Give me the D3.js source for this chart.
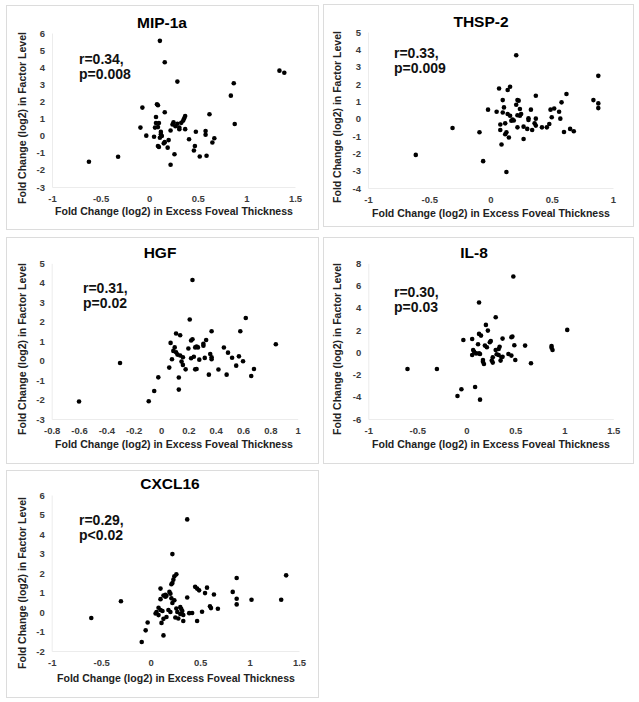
<!DOCTYPE html>
<html><head><meta charset="utf-8">
<script src="https://cdn.jsdelivr.net/npm/d3@7"></script>
<style>html,body{margin:0;padding:0;background:#fff}svg{display:block}</style>
</head><body>
<svg id="chart" width="639" height="702"></svg>
<script>
const panelTitles = ["MIP-1a", "THSP-2", "HGF", "IL-8", "CXCL16"];
const rValues = ["r=0.34,", "r=0.33,", "r=0.31,", "r=0.30,", "r=0.29,"];
const pValues = ["p=0.008", "p=0.009", "p=0.02", "p=0.03", "p<0.02"];
const xTitle = "Fold Change (log2) in Excess Foveal Thickness";
const yTitle = "Fold Change (log2) in Factor Level";

const xTicks1 = [-1, -0.5, 0, 0.5, 1, 1.5];
const yTicks1 = [-3, -2, -1, 0, 1, 2, 3, 4, 5, 6];
const xTicks2 = [-1, -0.5, 0, 0.5, 1];
const yTicks2 = [-4, -3, -2, -1, 0, 1, 2, 3, 4, 5];
const xTicks3 = [-0.8, -0.6, -0.4, -0.2, 0, 0.2, 0.4, 0.6, 0.8, 1];
const yTicks3 = [-3, -2, -1, 0, 1, 2, 3, 4, 5];
const xTicks4 = [-1, -0.5, 0, 0.5, 1, 1.5];
const yTicks4 = [-6, -4, -2, 0, 2, 4, 6, 8];
const xTicks5 = [-1, -0.5, 0, 0.5, 1, 1.5];
const yTicks5 = [-2, -1, 0, 1, 2, 3, 4, 5, 6];

const mip1a = [[0.11,5.54],[0.16,4.29],[0.29,3.16],[0.87,3.06],[0.84,2.34],[1.34,3.80],[1.39,3.68],[0.88,0.68],[0.62,1.25],[-0.07,1.64],[0.08,1.84],[0.09,1.78],[0.16,1.37],[0.07,1.09],[0.07,0.74],[0.10,0.74],[-0.09,0.47],[0.06,0.47],[0.09,0.50],[-0.03,0],[0.05,-0.06],[0.12,0.22],[0.12,0.08],[0.13,-0.02],[0.11,-0.12],[0.09,-0.60],[0.10,-0.66],[0.15,-0.45],[0.16,-0.38],[0.20,-0.26],[0.19,-0.70],[0.26,-1.09],[0.22,-1.70],[0.22,0.30],[0.24,0.65],[0.25,0.78],[0.27,0.55],[0.29,0.70],[0.31,0.48],[0.33,0.75],[0.35,0.88],[0.36,1.02],[0.37,1.15],[0.31,0.38],[0.37,0.38],[0.41,-0.21],[0.48,0.23],[0.58,0.27],[0.58,0.05],[0.67,-0.15],[0.65,-0.40],[0.47,-0.60],[0.46,-0.87],[0.52,-1.22],[0.59,-1.17],[-0.62,-1.52],[-0.32,-1.23]];
const thsp2 = [[0.21,3.66],[0.88,2.47],[0.84,1.07],[0.88,0.88],[0.88,0.61],[0.62,1.42],[0.58,0.94],[0.52,0.59],[0.56,0.40],[0.57,0.0],[0.49,0.52],[0.50,0.08],[0.48,-0.31],[0.46,-0.50],[0.42,-0.50],[0.37,0.0],[0.37,-0.40],[0.36,-0.27],[0.37,1.32],[0.33,0.52],[0.31,0.02],[0.31,-0.08],[0.34,-0.65],[0.30,-0.59],[0.27,-1.17],[0.27,-0.46],[0.25,0.27],[0.24,0.56],[0.24,0.17],[0.22,0.20],[0.21,0.80],[0.23,1.04],[0.22,1.07],[0.19,-0.11],[0.18,-0.05],[0.17,-0.12],[0.16,0.17],[0.14,0.27],[0.16,1.84],[0.14,1.65],[0.22,-0.50],[0.15,-1.09],[0.13,-0.78],[0.12,-0.90],[0.12,-0.27],[0.11,0.65],[0.10,1.07],[0.07,1.74],[0.10,0.36],[0.08,-0.34],[0.08,-0.65],[0.05,0.40],[0.09,-1.49],[0.13,-3.08],[-0.02,0.52],[-0.09,-0.78],[-0.06,-2.45],[-0.31,-0.54],[-0.61,-2.09],[0.65,-0.59],[0.68,-0.73],[0.60,-0.77]];
const hgf = [[-0.60,-2.1],[-0.30,-0.12],[0.23,4.14],[0.21,2.11],[0.62,2.19],[0.58,1.51],[0.37,1.51],[0.84,0.84],[-0.09,-2.09],[-0.05,-1.56],[-0.02,-0.86],[0.06,-0.36],[0.07,0.91],[0.08,0.07],[0.11,1.39],[0.14,1.30],[0.10,0.68],[0.11,0.43],[0.12,0.31],[0.14,0.26],[0.13,-1.49],[0.13,-0.87],[0.15,-0.05],[0.16,-0.22],[0.16,0.17],[0.18,-0.45],[0.20,0.62],[0.22,1.03],[0.23,1.10],[0.22,0.12],[0.24,0.20],[0.25,0.68],[0.26,0.72],[0.27,0.68],[0.26,-0.43],[0.25,-0.45],[0.28,0.05],[0.31,0.77],[0.31,0.86],[0.33,1.06],[0.32,0.14],[0.35,-0.72],[0.36,0.34],[0.37,0.17],[0.37,0.07],[0.42,-0.46],[0.46,0.67],[0.49,0.41],[0.48,-0.72],[0.52,0.15],[0.55,-0.26],[0.57,0.22],[0.60,-0.03],[0.66,-0.79],[0.68,-0.43],[0.09,0.50]];
const il8 = [[0.48,6.81],[0.13,4.47],[0.30,3.15],[0.20,2.46],[0.22,1.95],[1.03,2.01],[0.13,1.65],[0.15,1.50],[-0.03,1.11],[0.06,1.20],[0.25,1.02],[0.24,0.90],[0.37,1.23],[0.46,1.35],[0.47,1.41],[0.49,0.63],[0.60,0.60],[0.87,0.57],[0.87,0.40],[0.88,0.21],[0.12,0.72],[0.19,0.60],[0.21,0.45],[0.34,0.50],[0.33,0.30],[0.30,0.21],[0.07,0.20],[0.08,0.05],[0.10,-0.10],[0.06,-0.24],[0.13,-0.10],[0.14,-0.15],[0.17,-0.70],[0.17,-0.85],[0.18,-1.05],[0.26,-0.75],[0.27,-0.93],[0.27,-0.45],[0.31,-0.18],[0.33,-0.24],[0.35,-0.75],[0.36,-0.45],[0.37,-0.40],[0.43,-0.15],[0.46,-0.30],[0.50,-0.69],[0.66,-0.99],[-0.60,-1.50],[-0.30,-1.50],[0.09,-3.12],[-0.05,-3.33],[-0.09,-3.93],[0.14,-4.26]];
const cxcl16 = [[0.37,4.75],[0.22,2.97],[1.37,1.88],[0.87,1.74],[0.26,1.93],[0.24,1.83],[0.23,1.66],[0.22,1.49],[0.21,1.42],[0.10,1.20],[0.19,1.03],[0.20,0.94],[0.13,0.85],[0.15,0.88],[0.16,0.83],[0.10,0.66],[0.15,0.78],[0.21,0.70],[0.24,0.60],[0.22,0.46],[0.37,0.74],[0.45,1.29],[0.47,1.20],[0.49,1.11],[0.57,1.25],[0.55,0.97],[0.64,0.90],[0.83,1.03],[0.87,0.68],[0.87,0.39],[1.02,0.63],[1.32,0.63],[0.68,0.17],[0.60,0.29],[0.61,0.20],[0.52,0.01],[0.47,-0.46],[0.42,-0.05],[0.33,-0.46],[-0.60,-0.31],[-0.30,0.55],[-0.03,-0.54],[-0.05,-0.94],[-0.09,-1.54],[0.13,-1.20],[0.11,-0.56],[0.08,0.22],[0.06,0.00],[0.10,0.10],[0.12,0.05],[0.05,-0.08],[0.08,-0.16],[0.16,-0.26],[0.13,-0.35],[0.20,0.00],[0.18,0.10],[0.27,0.00],[0.26,0.18],[0.30,0.25],[0.31,0.15],[0.32,0.05],[0.33,-0.15],[0.25,-0.28],[0.28,-0.33],[0.30,-0.10],[0.39,-0.06]];

const seriesData = [mip1a, thsp2, hgf, il8, cxcl16];
const xTickSets = [xTicks1, xTicks2, xTicks3, xTicks4, xTicks5];
const yTickSets = [yTicks1, yTicks2, yTicks3, yTicks4, yTicks5];

// layout (pixels)
const layout = [
  {box:[6,5,312,224], px:[52,295], py:[187,33], title:[162,28], ann:[79,64], xt:[174,215], yt:[26,118]},
  {box:[323,4,310,222], px:[368,613], py:[188,32], title:[481,27], ann:[394,58], xt:[491,217], yt:[341,117]},
  {box:[6,237,312,226], px:[51.7,297.7], py:[419,263.3], title:[160,258], ann:[83,293], xt:[174,448], yt:[26,349]},
  {box:[323,237,310,226], px:[368.3,613.3], py:[419,263.3], title:[474,258], ann:[394,297], xt:[491,448], yt:[341,349]},
  {box:[6,470,312,227], px:[51.7,299], py:[651,495], title:[170,489], ann:[79,525], xt:[176,682], yt:[26,583]}
];

const svg = d3.select("#chart");
const font = "'Liberation Sans', Arial, sans-serif";

function fitText(sel, target) {
  const len = sel.node().getComputedTextLength();
  const fs = parseFloat(sel.attr("font-size"));
  sel.attr("font-size", (fs * target / len).toFixed(2));
}

panelTitles.forEach((name, i) => {
  const L = layout[i];
  const xt = xTickSets[i], yt = yTickSets[i];
  const x = d3.scaleLinear().domain([xt[0], xt[xt.length-1]]).range(L.px);
  const y = d3.scaleLinear().domain([yt[0], yt[yt.length-1]]).range(L.py);
  const g = svg.append("g");

  g.append("rect").attr("x", L.box[0]+0.5).attr("y", L.box[1]+0.5)
    .attr("width", L.box[2]).attr("height", L.box[3])
    .attr("fill", "#fff").attr("stroke", "#dcdcdc").attr("stroke-width", 1);

  const xAxis = d3.axisBottom(x).tickValues(xt).tickSize(0).tickPadding(6)
    .tickFormat(d => String(+d.toFixed(2)));
  const yAxis = d3.axisLeft(y).tickValues(yt).tickSize(0).tickPadding(7)
    .tickFormat(d => String(d));
  const gx = g.append("g").attr("transform", `translate(0,${L.py[0]})`).call(xAxis);
  const gy = g.append("g").attr("transform", `translate(${L.px[0]},0)`).call(yAxis);
  [gx, gy].forEach(a => {
    a.select(".domain").attr("stroke", "#ececec").attr("stroke-width", 1);
    a.selectAll("text").attr("font-family", font).attr("font-weight", "bold")
      .attr("font-size", 9.5).attr("fill", "#3a3a3a");
  });
  gx.selectAll("text").attr("dy", "0.9em");

  g.append("g").selectAll("circle").data(seriesData[i]).join("circle")
    .attr("cx", d => x(d[0])).attr("cy", d => y(d[1]))
    .attr("r", 2.3).attr("fill", "#000");

  g.append("text").attr("x", L.title[0]).attr("y", L.title[1])
    .attr("text-anchor", "middle").attr("font-family", font)
    .attr("font-weight", "bold").attr("font-size", 15.5).attr("fill", "#000").text(name);

  g.append("text").attr("x", L.ann[0]).attr("y", L.ann[1])
    .attr("font-family", font).attr("font-weight", "bold").attr("font-size", 14)
    .attr("fill", "#111").text(rValues[i]);
  g.append("text").attr("x", L.ann[0]).attr("y", L.ann[1] + 15)
    .attr("font-family", font).attr("font-weight", "bold").attr("font-size", 14)
    .attr("fill", "#111").text(pValues[i]);

  const xtText = g.append("text").attr("x", L.xt[0]).attr("y", L.xt[1])
    .attr("text-anchor", "middle").attr("font-family", font).attr("font-weight", "bold")
    .attr("font-size", 11).attr("fill", "#222").text(xTitle);
  fitText(xtText, 238);
  const ytText = g.append("text").attr("transform", `translate(${L.yt[0]},${L.yt[1]}) rotate(-90)`)
    .attr("text-anchor", "middle").attr("font-family", font).attr("font-weight", "bold")
    .attr("font-size", 11).attr("fill", "#222").text(yTitle);
  fitText(ytText, 172);
});
</script>
</body></html>
